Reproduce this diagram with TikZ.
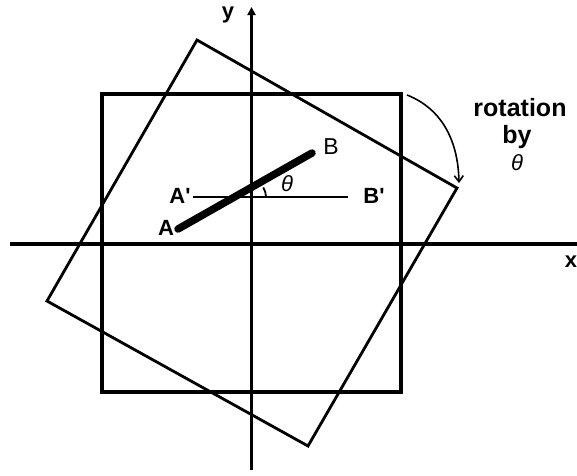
\documentclass[tikz,border=0pt]{standalone}
\usepackage{fontspec}
\setmainfont{Liberation Sans}
\usetikzlibrary{arrows.meta}
\begin{document}
\begin{tikzpicture}[x=1pt,y=-1pt,
  axis/.style={line width=3.2pt},
  sq/.style={line width=3.3pt,line join=miter},
  rsq/.style={line width=2.8pt,line join=miter},
  seg/.style={line width=7.5pt,line cap=round},
  thin/.style={line width=2.5pt},
  lblb/.style={font=\fontsize{22}{22}\selectfont\bfseries,inner sep=0pt},
  lblr/.style={font=\fontsize{23}{23}\selectfont,inner sep=0pt},
  th/.style={font=\fontsize{22}{22}\selectfont\itshape,inner sep=0pt},
  rot/.style={font=\fontsize{25}{25}\selectfont\bfseries,inner sep=0pt}]
\useasboundingbox (0,0) rectangle (577,475);
% axes
\coordinate (xl) at (10,244);
\coordinate (xr) at (577,244);
\coordinate (yb) at (251.5,470);
\coordinate (yt) at (251.5,7);
\draw[axis] (xl) -- (xr);
\draw[axis,-{Triangle[length=8pt,width=8pt]}] (yb) -- (yt);
% original square
\coordinate (s1) at (102,94);
\coordinate (s2) at (401,94);
\coordinate (s3) at (401,392);
\coordinate (s4) at (102,392);
\draw[sq] (s1) -- (s2) -- (s3) -- (s4) -- cycle;
% rotated square
\coordinate (r1) at (197,40);
\coordinate (r2) at (457,188);
\coordinate (r3) at (308,446);
\coordinate (r4) at (47,301);
\draw[rsq] (r1) -- (r2) -- (r3) -- (r4) -- cycle;
% segments
\coordinate (pA) at (178,229);
\coordinate (pB) at (312,153);
\coordinate (pA2) at (193,197);
\coordinate (pB2) at (348,197);
\draw[thin] (pA2) -- (pB2);
\draw[seg] (pA) -- (pB);
% angle arc
\coordinate (vx) at (248,197);
\draw[line width=1.8pt] (vx) ++(18,0) arc[start angle=0,end angle=-32,radius=18];
% labels
\node[lblb] (lA2) at (180,196) {A\textquotesingle};
\node[lblb] (lA) at (166,228) {A};
\node[lblr] (lB) at (331,147) {B};
\node[lblb] (lB2) at (374,196) {B\textquotesingle};
\node[th] (lth) at (287,184) {θ};
\node[lblb] (ly) at (228,15) {y};
\node[lblb] (lx) at (571,262) {x};
% rotation label
\node[rot] (rot1) at (520,108) {rotation};
\node[rot] (rot2) at (517,137) {by};
\node[th] (rot3) at (517,163) {θ};
% curved arrow
\coordinate (c1) at (407,95);
\coordinate (c2) at (459,183);
\draw[line width=1.6pt,-{Straight Barb[length=6pt,width=9pt]}] (c1) .. controls (440,108) and (458,138) .. (c2);
\end{tikzpicture}
\end{document}
